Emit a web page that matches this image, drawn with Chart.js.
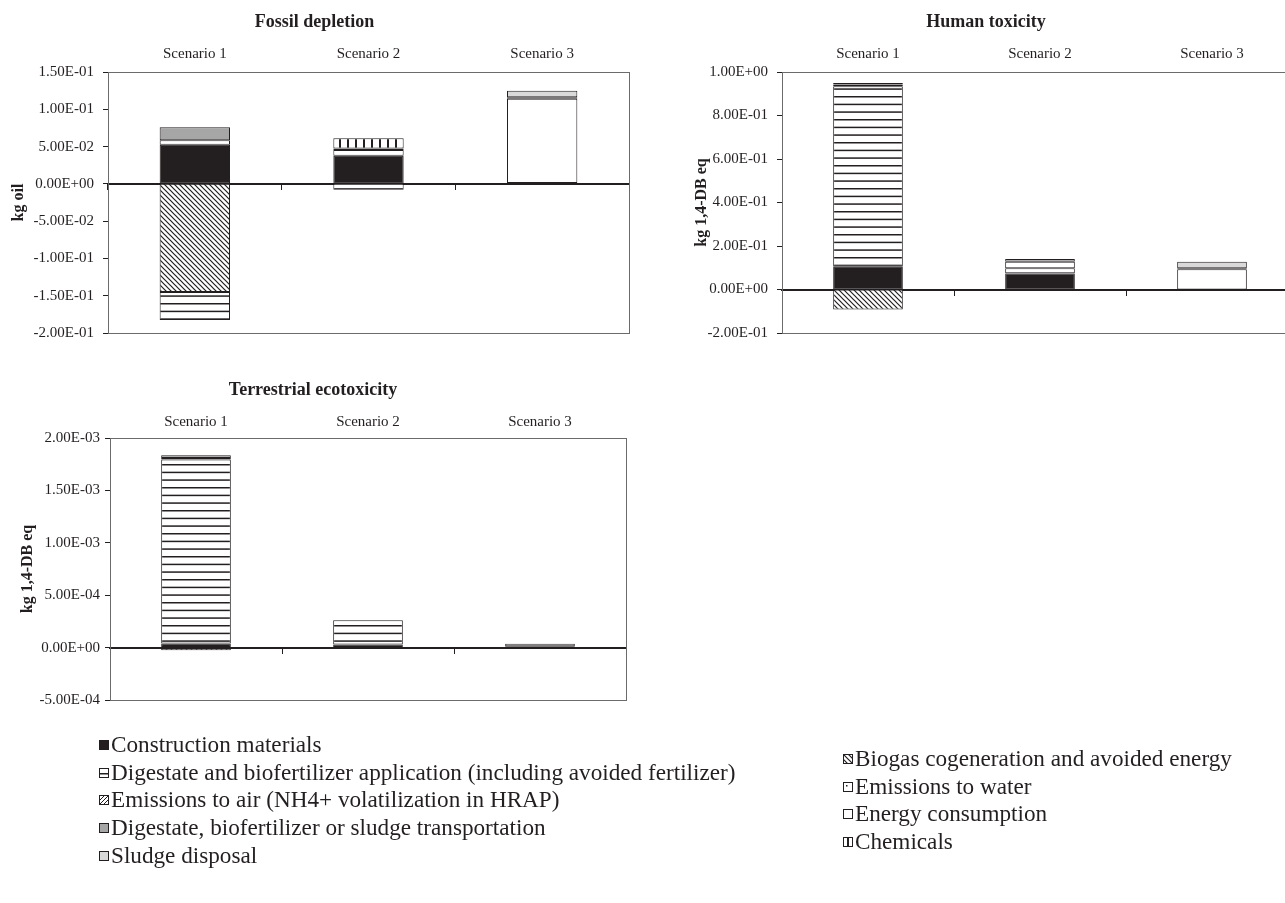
<!DOCTYPE html>
<html>
<head>
<meta charset="utf-8">
<script src="https://cdn.jsdelivr.net/npm/chart.js@4.4.1/dist/chart.umd.min.js"></script>
<style>
  html, body { margin: 0; padding: 0; background: #fff; overflow: hidden; }
  body { width: 1285px; height: 903px; position: relative; font-family: "Liberation Serif", "DejaVu Serif", serif; color: #231f20; }
  .box { position: absolute; }
  .legend { position: absolute; font-size: 23.2px; line-height: 27.7px; white-space: nowrap; }
  .legend div { display: flex; align-items: center; }
  .legend canvas { width: 8px; height: 8px; border: 1px solid #231f20; margin-right: 2px; }
</style>
</head>
<body>
<div class="box" style="left:0;top:0;width:640px;height:345px"><canvas id="chartFossil"></canvas></div>
<div class="box" style="left:674px;top:0;width:714px;height:345px"><canvas id="chartHuman"></canvas></div>
<div class="box" style="left:0;top:368px;width:640px;height:344px"><canvas id="chartTerrestrial"></canvas></div>
<div class="legend" id="legendLeft" style="left:99px;top:731px"></div>
<div class="legend" id="legendRight" style="left:843px;top:745px"></div>

<script>
const scenarios = ['Scenario 1', 'Scenario 2', 'Scenario 3'];

const seriesNames = [
  'Construction materials',
  'Biogas cogeneration and avoided energy',
  'Digestate and biofertilizer application (including avoided fertilizer)',
  'Emissions to water',
  'Emissions to air (NH4+ volatilization in HRAP)',
  'Energy consumption',
  'Digestate, biofertilizer or sludge transportation',
  'Chemicals',
  'Sludge disposal'
];

// one row per series (same order as seriesNames), one column per scenario
const fossilDepletion = [
  [0.0525, 0.0377, 0.0010],
  [-0.145, 0, 0],
  [-0.0377, -0.0080, 0],
  [0, 0, 0],
  [0, 0, 0],
  [0.0060, 0.0077, 0.1130],
  [0.0175, 0.0020, 0.0020],
  [0, 0.0138, 0],
  [0, 0, 0.0090]
];

const humanToxicity = [
  [0.105, 0.073, 0],
  [-0.092, 0, 0],
  [0.830, 0.025, 0],
  [0, 0, 0],
  [0, 0, 0],
  [0, 0.030, 0.093],
  [0.008, 0.012, 0.005],
  [0, 0, 0],
  [0.006, 0, 0.030]
];

const terrestrialEcotox = [
  [0.000040, 0.000030, 0.000012],
  [-0.000025, 0, 0],
  [0.001755, 0.000230, 0],
  [0, 0, 0],
  [0, 0, 0],
  [0.000015, 0, 0.000025],
  [0.000025, 0, 0],
  [0, 0, 0],
  [0, 0, 0]
];

// y axis: min, max, step
const fossilTicks = [-0.2, 0.15, 0.05];
const humanTicks = [-0.2, 1.0, 0.2];
const terrestrialTicks = [-0.0005, 0.002, 0.0005];

const ink = '#231f20';
const serif = '"Liberation Serif", "DejaVu Serif", serif';

// fill patterns
function tile(w, h, draw) {
  const c = document.createElement('canvas');
  c.width = w; c.height = h;
  const g = c.getContext('2d');
  g.fillStyle = '#fff';
  g.fillRect(0, 0, w, h);
  g.fillStyle = ink;
  g.strokeStyle = ink;
  draw(g, w, h);
  return g.createPattern(c, 'repeat');
}

const fills = [
  ink,
  tile(5, 5, (g) => {
    g.lineWidth = 1.2;
    g.beginPath();
    g.moveTo(-1, -1); g.lineTo(6, 6);
    g.moveTo(4, -1); g.lineTo(6, 1);
    g.moveTo(-1, 4); g.lineTo(1, 6);
    g.stroke();
  }),
  tile(4, 23, (g) => {
    g.fillRect(0, 4, 4, 1.5);
    g.fillRect(0, 11.67, 4, 1.5);
    g.fillRect(0, 19.33, 4, 1.5);
  }),
  tile(6, 6, (g) => { g.fillRect(2, 2, 1.5, 1.5); }),
  tile(4, 4, (g) => {
    g.lineWidth = 1;
    g.beginPath();
    g.moveTo(-1, 5); g.lineTo(5, -1);
    g.stroke();
  }),
  '#ffffff',
  '#a6a6a6',
  tile(8, 8, (g) => { g.fillRect(3, 0, 2, 8); }),
  '#d9d9d9'
];

function sci(v) {
  if (Math.abs(v) < 1e-12) v = 0;
  const parts = v.toExponential(2).split('e');
  const sign = parts[1][0] === '-' ? '-' : '+';
  const exp = parts[1].replace(/^[+-]/, '').padStart(2, '0');
  return parts[0] + 'E' + sign + exp;
}

const plotBox = {
  id: 'plotBox',
  beforeDatasetsDraw(chart) {
    const a = chart.chartArea;
    const ctx = chart.ctx;
    ctx.save();
    ctx.strokeStyle = '#6b6b6b';
    ctx.lineWidth = 1;
    ctx.strokeRect(Math.round(a.left) + 0.5, Math.round(a.top) + 0.5,
      Math.round(a.right - a.left), Math.round(a.bottom - a.top));
    ctx.restore();
  }
};

function makeChart(id, title, yTitle, values, ticks, opt) {
  const datasets = seriesNames.map((name, i) => ({
    label: name,
    data: values[i].map(v => v === 0 ? null : v),
    backgroundColor: fills[i],
    borderColor: ink,
    borderWidth: 1,
    borderSkipped: false,
    barPercentage: 0.405,
    categoryPercentage: 1
  }));

  return new Chart(document.getElementById(id), {
    type: 'bar',
    data: { labels: scenarios, datasets: datasets },
    plugins: [plotBox],
    options: {
      responsive: true,
      maintainAspectRatio: false,
      animation: false,
      layout: { padding: { left: 0, right: opt.right, top: 0, bottom: opt.bottom } },
      plugins: {
        legend: { display: false },
        tooltip: { enabled: false },
        title: {
          display: true,
          text: title,
          color: ink,
          font: { family: serif, size: 18, weight: 'bold' },
          padding: { top: 12, bottom: 0 }
        }
      },
      scales: {
        x: {
          stacked: true,
          position: { y: 0 },
          offset: true,
          z: 1,
          ticks: { display: false },
          grid: { drawOnChartArea: false, drawTicks: true, tickLength: 5, color: ink, offset: true },
          border: { display: true, color: ink, width: 2 }
        },
        xTop: {
          axis: 'x',
          type: 'category',
          position: 'top',
          offset: true,
          grid: { display: false, drawTicks: false },
          border: { display: false },
          ticks: { color: ink, font: { family: serif, size: 15 }, padding: opt.labelPad },
          afterFit: s => { s.height = opt.topHeight; }
        },
        y: {
          stacked: true,
          min: ticks[0],
          max: ticks[1],
          ticks: {
            stepSize: ticks[2],
            color: ink,
            padding: opt.tickPad,
            font: { family: serif, size: 15 },
            callback: v => sci(v)
          },
          grid: { drawOnChartArea: false, drawTicks: true, tickLength: 5, color: ink },
          border: { display: true, color: '#6b6b6b' },
          title: {
            display: true,
            text: yTitle,
            color: ink,
            font: { family: serif, size: 16, weight: 'bold' },
            padding: { top: opt.titleOffset, bottom: 0 }
          },
          afterFit: s => {
            s.width = opt.axisWidth;
            s.paddingTop = 0;
            s.paddingBottom = 0;
          }
        }
      }
    }
  });
}

makeChart('chartFossil', 'Fossil depletion', 'kg oil', fossilDepletion, fossilTicks,
  { right: 11, bottom: 12, topHeight: 38.4, labelPad: 9, tickPad: 9, titleOffset: 9, axisWidth: 108 });
makeChart('chartHuman', 'Human toxicity', 'kg 1,4-DB eq', humanToxicity, humanTicks,
  { right: 90, bottom: 12, topHeight: 38.4, labelPad: 9, tickPad: 9, titleOffset: 18, axisWidth: 108 });
makeChart('chartTerrestrial', 'Terrestrial ecotoxicity', 'kg 1,4-DB eq', terrestrialEcotox, terrestrialTicks,
  { right: 14, bottom: 12, topHeight: 36.4, labelPad: 7, tickPad: 5, titleOffset: 18, axisWidth: 110 });

// legend in two columns, swatches use the same fills as the bars
function addLegendItem(containerId, i) {
  const row = document.createElement('div');
  const sw = document.createElement('canvas');
  sw.width = 8; sw.height = 8;
  const g = sw.getContext('2d');
  g.fillStyle = fills[i];
  g.fillRect(0, 0, 8, 8);
  const label = document.createElement('span');
  label.textContent = seriesNames[i];
  row.appendChild(sw);
  row.appendChild(label);
  document.getElementById(containerId).appendChild(row);
}
[0, 2, 4, 6, 8].forEach(i => addLegendItem('legendLeft', i));
[1, 3, 5, 7].forEach(i => addLegendItem('legendRight', i));
</script>
</body>
</html>
